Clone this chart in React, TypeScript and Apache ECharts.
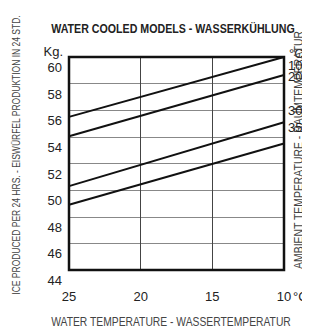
import React, { useEffect, useRef } from "react";
import * as echarts from "echarts";

const xTicks = [25, 20, 15, 10];
const yTicks = [44, 46, 48, 50, 52, 54, 56, 58, 60];
const ambientLabels = ["10", "20", "30", "35"];
const line10: [number, number][] = [[25, 55.5], [10, 60.0]];
const line20: [number, number][] = [[25, 54.05], [10, 58.65]];
const line30: [number, number][] = [[25, 50.3], [10, 55.1]];
const line35: [number, number][] = [[25, 48.9], [10, 53.5]];
const seriesData = [line10, line20, line30, line35];
const labelOffsets = [8, 2, -12, -16];

const SANS = '"Liberation Sans", Arial, sans-serif';

export default function App() {
  const ref = useRef<HTMLDivElement>(null);
  useEffect(() => {
    const chart = echarts.init(ref.current!, null, { renderer: "svg" });
    chart.setOption({
      animation: false,
      backgroundColor: "#fff",
      grid: { left: 69, right: 26, top: 57, bottom: 64, show: false },
      xAxis: {
        type: "value",
        inverse: true,
        min: 10,
        max: 25,
        interval: 5,
        axisLine: { show: false },
        axisTick: { show: false },
        splitLine: { show: true, lineStyle: { color: "#444", width: 1 } },
        axisLabel: {
          margin: 20,
          fontFamily: SANS,
          fontSize: 13,
          color: "#222",
          formatter: (v: number) => (xTicks.includes(v) ? String(v) : ""),
        },
      },
      yAxis: {
        type: "value",
        min: 44,
        max: 60,
        interval: 2,
        axisLine: { show: false },
        axisTick: { show: false },
        splitLine: { show: true, lineStyle: { color: "#888", width: 1 } },
        axisLabel: {
          margin: 7,
          fontFamily: SANS,
          fontSize: 13,
          color: "#222",
          verticalAlign: "top",
          padding: [4, 0, 0, 0],
          formatter: (v: number) => (yTicks.includes(v) ? String(v) : ""),
        },
      },
      series: seriesData.map((d, i) => ({
        type: "line",
        data: d,
        symbol: "none",
        lineStyle: { color: "#111", width: 2 },
        silent: true,
        endLabel: {
          show: true,
          formatter: ambientLabels[i],
          align: "left",
          offset: [12, labelOffsets[i]],
          fontFamily: SANS,
          fontSize: 13,
          color: "#222",
        },
      })),
      graphic: [
        {
          type: "rect",
          shape: { x: 69, y: 57, width: 215, height: 213 },
          style: { fill: "none", stroke: "#111", lineWidth: 2.5 },
          z: 10,
        },
        {
          type: "text",
          x: 173,
          y: 29,
          scaleX: 0.82,
          style: {
            text: "WATER COOLED MODELS - WASSERKÜHLUNG",
            fontFamily: SANS,
            fontWeight: "bold",
            fontSize: 13,
            fill: "#222",
            align: "center",
            verticalAlign: "middle",
          },
        },
        {
          type: "text",
          x: 63,
          y: 51,
          style: { text: "Kg.", fontFamily: SANS, fontSize: 13, fill: "#222", align: "right", verticalAlign: "middle" },
        },
        {
          type: "text",
          x: 289,
          y: 53,
          style: { text: "°C", fontFamily: SANS, fontSize: 13, fill: "#222", align: "left", verticalAlign: "middle" },
        },
        {
          type: "text",
          x: 293,
          y: 296,
          style: { text: "°C", fontFamily: SANS, fontSize: 13, fill: "#222", align: "left", verticalAlign: "middle" },
        },
        {
          type: "text",
          x: 171,
          y: 322,
          scaleX: 0.86,
          style: {
            text: "WATER TEMPERATURE - WASSERTEMPERATUR",
            fontFamily: SANS,
            fontSize: 12,
            fill: "#444",
            align: "center",
            verticalAlign: "middle",
          },
        },
        {
          type: "text",
          x: 17,
          y: 155,
          rotation: Math.PI / 2,
          scaleX: 0.85,
          style: {
            text: "ICE PRODUCED PER 24 HRS. - EISWÜRFEL PRODUKTION IN 24 STD.",
            fontFamily: SANS,
            fontSize: 10,
            fill: "#444",
            align: "center",
            verticalAlign: "middle",
          },
        },
        {
          type: "text",
          x: 299,
          y: 150,
          rotation: Math.PI / 2,
          scaleX: 0.87,
          style: {
            text: "AMBIENT TEMPERATURE - RAUMTEMPERATUR",
            fontFamily: SANS,
            fontSize: 12,
            fill: "#444",
            align: "center",
            verticalAlign: "middle",
          },
        },
      ],
    });
    return () => chart.dispose();
  }, []);
  return <div ref={ref} style={{ width: 310, height: 334, margin: -8 }} />;
}
